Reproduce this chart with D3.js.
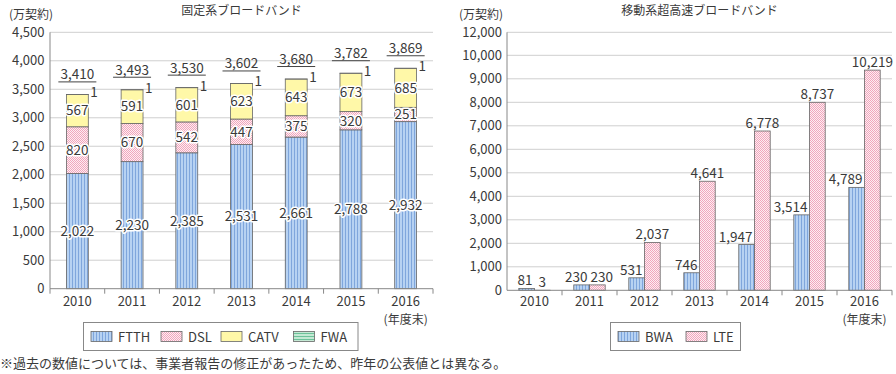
<!DOCTYPE html>
<html>
<head>
<meta charset="utf-8">
<script src="https://cdn.jsdelivr.net/npm/d3@7"></script>
<style>
  body { margin: 0; background: #fff; }
  text { font-family: "Noto Sans CJK JP", "Noto Sans", sans-serif; fill: #3a3a3a; }
</style>
</head>
<body>
<svg width="896" height="374"></svg>
<script>
// データ
const years = ["2010", "2011", "2012", "2013", "2014", "2015", "2016"];

// 固定系ブロードバンド
const ftth = [2022, 2230, 2385, 2531, 2661, 2788, 2932];
const dsl = [820, 670, 542, 447, 375, 320, 251];
const catv = [567, 591, 601, 623, 643, 673, 685];
const fwa = [1, 1, 1, 1, 1, 1, 1];
const fixedTotals = [3410, 3493, 3530, 3602, 3680, 3782, 3869];
const leftTicks = [0, 500, 1000, 1500, 2000, 2500, 3000, 3500, 4000, 4500];

// 移動系超高速ブロードバンド (printed values)
const bwa = [81, 230, 531, 746, 1947, 3514, 4789];
const lte = [3, 230, 2037, 4641, 6778, 8737, 10219];
// bar heights as drawn in the source figure (2015-16 bars are drawn shorter than printed)
const bwaDrawn = [81, 230, 531, 746, 1947, 3210, 4380];
const lteDrawn = [3, 230, 2037, 4641, 6778, 8000, 9370];
const rightTicks = [0, 1000, 2000, 3000, 4000, 5000, 6000, 7000, 8000, 9000, 10000, 12000];

const svg = d3.select("svg");
const fmt = d3.format(",");

// パターン
const defs = svg.append("defs");
function stripes(id, w, h, base, line, vertical) {
  const p = defs.append("pattern").attr("id", id).attr("patternUnits", "userSpaceOnUse")
    .attr("width", w).attr("height", h);
  p.append("rect").attr("width", w).attr("height", h).attr("fill", base);
  if (vertical) p.append("rect").attr("width", 1).attr("height", h).attr("fill", line);
  else p.append("rect").attr("width", w).attr("height", 1).attr("fill", line);
}
stripes("pFTTH", 3, 3, "#b7d2f2", "#7fa6dc", true);
stripes("pFWA", 3, 3, "#c4e9d4", "#6cc29a", false);
const chk = defs.append("pattern").attr("id", "pDSL").attr("patternUnits", "userSpaceOnUse")
  .attr("width", 2).attr("height", 2);
chk.append("rect").attr("width", 2).attr("height", 2).attr("fill", "#fdeef2");
chk.append("rect").attr("width", 1).attr("height", 1).attr("fill", "#f1a6bd");
chk.append("rect").attr("x", 1).attr("y", 1).attr("width", 1).attr("height", 1).attr("fill", "#f1a6bd");

const fills = { ftth: "url(#pFTTH)", dsl: "url(#pDSL)", catv: "#fff8a8", fwa: "url(#pFWA)" };

// ---------- 左：固定系 ----------
const xL = d3.scaleBand().domain(years).range([50, 433]);
const yL = d3.scaleLinear().domain([0, 4500]).range([288.7, 32.3]);
const gL = svg.append("g");

gL.selectAll("line.grid").data(leftTicks.slice(1)).enter().append("line")
  .attr("x1", 50).attr("x2", 433).attr("y1", d => yL(d)).attr("y2", d => yL(d))
  .attr("stroke", "#cfcfcf");
gL.selectAll("text.yt").data(leftTicks).enter().append("text")
  .attr("x", 44.5).attr("y", d => yL(d)).attr("dy", "0.36em")
  .attr("text-anchor", "end").attr("font-size", 13).text(d => fmt(d));

const rows = years.map((y, i) => ({ year: y, ftth: ftth[i], dsl: dsl[i], catv: catv[i], fwa: fwa[i] }));
const keys = ["ftth", "dsl", "catv", "fwa"];
const series = d3.stack().keys(keys)(rows);
const bw = xL.bandwidth() * 0.4;
const bx = d => xL(d.data.year) + (xL.bandwidth() - bw) / 2;

series.forEach(s => {
  gL.selectAll(null).data(s).enter().append("rect")
    .attr("x", bx).attr("width", bw)
    .attr("y", d => yL(d[1])).attr("height", d => yL(d[0]) - yL(d[1]))
    .attr("fill", fills[s.key]).attr("stroke", "#666").attr("stroke-width", 0.8);
});

// segment labels (FTTH, DSL, CATV)
series.slice(0, 3).forEach(s => {
  gL.selectAll(null).data(s).enter().append("text")
    .attr("x", d => xL(d.data.year) + xL.bandwidth() / 2)
    .attr("y", d => (yL(d[0]) + yL(d[1])) / 2).attr("dy", "0.36em")
    .attr("text-anchor", "middle").attr("font-size", 13.5)
    .attr("stroke", "#fff").attr("stroke-width", 3).attr("paint-order", "stroke")
    .attr("stroke-linejoin", "round")
    .text(d => fmt(d[1] - d[0]));
});
// FWA labels
gL.selectAll(null).data(series[3]).enter().append("text")
  .attr("x", d => bx(d) + bw + 2).attr("y", d => yL(d[1]) + 3)
  .attr("font-size", 13.5).text(d => d[1] - d[0]);

// totals with underline
years.forEach((y, i) => {
  const cx = xL(y) + xL.bandwidth() / 2;
  const ly = yL(series[3][i][1]) - 12.5;
  gL.append("line").attr("x1", cx - 19).attr("x2", cx + 19).attr("y1", ly).attr("y2", ly)
    .attr("stroke", "#444").attr("stroke-width", 1);
  gL.append("text").attr("x", cx).attr("y", ly - 2.5).attr("text-anchor", "middle")
    .attr("font-size", 13.5).text(fmt(fixedTotals[i]));
});

// axes
gL.append("line").attr("x1", 50).attr("x2", 50).attr("y1", yL(4500)).attr("y2", yL(0)).attr("stroke", "#888");
gL.append("line").attr("x1", 50).attr("x2", 433).attr("y1", yL(0)).attr("y2", yL(0)).attr("stroke", "#888");
gL.selectAll("line.xt").data(years.map(y => xL(y) + xL.bandwidth()).concat([50])).enter().append("line")
  .attr("x1", d => d).attr("x2", d => d).attr("y1", yL(0)).attr("y2", yL(0) + 5).attr("stroke", "#888");
gL.selectAll("text.xl").data(years).enter().append("text")
  .attr("x", d => xL(d) + xL.bandwidth() / 2).attr("y", 306)
  .attr("text-anchor", "middle").attr("font-size", 13).text(d => d);
gL.append("text").attr("x", xL("2016") + xL.bandwidth() / 2).attr("y", 324)
  .attr("text-anchor", "middle").attr("font-size", 12).text("(年度末)");
gL.append("text").attr("x", 241.5).attr("y", 14.5).attr("text-anchor", "middle")
  .attr("font-size", 12).text("固定系ブロードバンド");
gL.append("text").attr("x", 9).attr("y", 18.5).attr("font-size", 12).text("(万契約)");

// ---------- 右：移動系 ----------
const xR = d3.scaleBand().domain(years).range([507, 892]);
const yR = d3.scaleLinear().domain([0, 10000, 12000]).range([290.3, 55.3, 32.3]);
const gR = svg.append("g");

gR.selectAll("line.grid").data(rightTicks.slice(1)).enter().append("line")
  .attr("x1", 507).attr("x2", 892).attr("y1", d => yR(d)).attr("y2", d => yR(d))
  .attr("stroke", "#cfcfcf");
gR.selectAll("text.yt").data(rightTicks).enter().append("text")
  .attr("x", 502).attr("y", d => yR(d)).attr("dy", "0.36em")
  .attr("text-anchor", "end").attr("font-size", 13).text(d => fmt(d));

const rbw = 15.7;
const cxR = y => xR(y) + xR.bandwidth() / 2;
gR.selectAll("rect.bwa").data(bwaDrawn).enter().append("rect")
  .attr("x", (d, i) => cxR(years[i]) - rbw).attr("width", rbw)
  .attr("y", d => yR(d)).attr("height", d => yR(0) - yR(d))
  .attr("fill", fills.ftth).attr("stroke", "#666").attr("stroke-width", 0.8);
gR.selectAll("rect.lte").data(lteDrawn).enter().append("rect")
  .attr("x", (d, i) => cxR(years[i])).attr("width", rbw)
  .attr("y", d => yR(d)).attr("height", d => yR(0) - yR(d))
  .attr("fill", fills.dsl).attr("stroke", "#666").attr("stroke-width", 0.8);

const bwaLabels = gR.selectAll("text.bwa").data(bwa).enter().append("text")
  .attr("x", (d, i) => cxR(years[i]) - 2).attr("y", (d, i) => yR(bwaDrawn[i]) - 3)
  .attr("text-anchor", "end").attr("font-size", 13.5).text(d => fmt(d));
const lteLabels = gR.selectAll("text.lte").data(lte).enter().append("text")
  .attr("x", (d, i) => cxR(years[i]) + rbw / 2).attr("y", (d, i) => yR(lteDrawn[i]) - 3)
  .attr("text-anchor", "middle").attr("font-size", 13.5).text(d => fmt(d));
// push LTE label right if it collides with the BWA label
lteLabels.each(function (d, i) {
  const b = bwaLabels.nodes()[i].getBBox();
  const l = this.getBBox();
  if (Math.abs(b.y - l.y) < l.height && l.x < b.x + b.width + 3) {
    d3.select(this).attr("x", +d3.select(this).attr("x") + (b.x + b.width + 3 - l.x));
  }
});

gR.append("line").attr("x1", 507).attr("x2", 507).attr("y1", yR(12000)).attr("y2", yR(0)).attr("stroke", "#888");
gR.append("line").attr("x1", 507).attr("x2", 892).attr("y1", yR(0)).attr("y2", yR(0)).attr("stroke", "#888");
gR.selectAll("line.xt").data(years.map(y => xR(y) + xR.bandwidth())).enter().append("line")
  .attr("x1", d => d).attr("x2", d => d).attr("y1", yR(0)).attr("y2", yR(0) + 5).attr("stroke", "#888");
gR.selectAll("text.xl").data(years).enter().append("text")
  .attr("x", d => cxR(d)).attr("y", 306)
  .attr("text-anchor", "middle").attr("font-size", 13).text(d => d);
gR.append("text").attr("x", cxR("2016")).attr("y", 324)
  .attr("text-anchor", "middle").attr("font-size", 12).text("(年度末)");
gR.append("text").attr("x", 699.5).attr("y", 14.5).attr("text-anchor", "middle")
  .attr("font-size", 12).text("移動系超高速ブロードバンド");
gR.append("text").attr("x", 459).attr("y", 18.5).attr("font-size", 12).text("(万契約)");

// ---------- 凡例 ----------
function legend(x0, x1, items) {
  const g = svg.append("g");
  g.append("rect").attr("x", x0).attr("y", 322.5).attr("width", x1 - x0).attr("height", 28)
    .attr("fill", "#fff").attr("stroke", "#888");
  items.forEach(it => {
    g.append("rect").attr("x", it.x).attr("y", 331.5).attr("width", 21).attr("height", 10)
      .attr("fill", it.fill).attr("stroke", "#666").attr("stroke-width", 0.8);
    g.append("text").attr("x", it.x + 27).attr("y", 341.5).attr("font-size", 13).text(it.label);
  });
}
legend(83.5, 358, [
  { x: 91, fill: fills.ftth, label: "FTTH" },
  { x: 161, fill: fills.dsl, label: "DSL" },
  { x: 221, fill: fills.catv, label: "CATV" },
  { x: 293.5, fill: fills.fwa, label: "FWA" }
]);
legend(610.5, 740.5, [
  { x: 618, fill: fills.ftth, label: "BWA" },
  { x: 686, fill: fills.dsl, label: "LTE" }
]);

svg.append("text").attr("x", 0).attr("y", 368).attr("font-size", 13)
  .text("※過去の数値については、事業者報告の修正があったため、昨年の公表値とは異なる。");
</script>
</body>
</html>
